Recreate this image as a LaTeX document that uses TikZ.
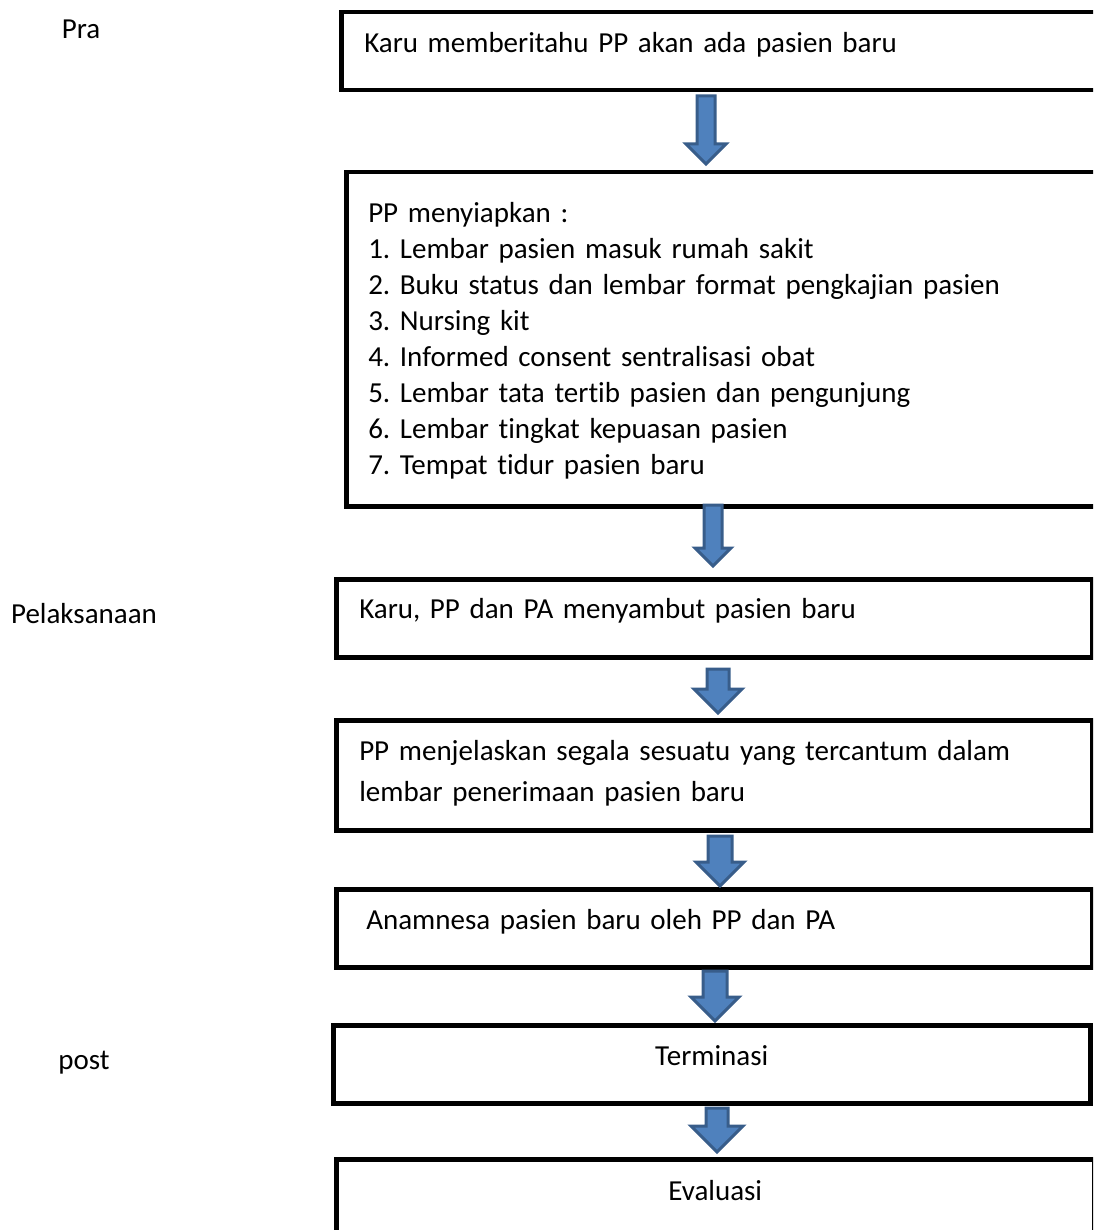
\documentclass[tikz,border=0pt]{standalone}
\usepackage{fontspec}
\setmainfont{Carlito}[Ligatures=NoCommon]
\frenchspacing
\usetikzlibrary{shapes.arrows}
\definecolor{arfill}{HTML}{4F81BD}
\definecolor{arline}{HTML}{385D8A}
\newcommand\stepfont[1]{\fontsize{29}{#1}\selectfont\fontdimen2\font 4.6pt\relax}

\begin{document}
\begin{tikzpicture}[x=1pt, y=-1pt, font=\stepfont{36},
          box/.style={draw, line width=4.5pt, anchor=north west, inner ysep=0pt, inner xsep=23pt, align=left},
          barrow/.style={single arrow, draw=arline, fill=arfill, line width=3pt, rotate=-90, anchor=tail,
                         text height=0pt, text depth=0pt, inner xsep=0pt, single arrow head indent=0pt}]
          \useasboundingbox (0,0) rectangle (1093,1230);
          \clip (0,0) rectangle (1093,1230);
          % stage labels
          \node[anchor=base] (pra) at (81,39) {Pra};
          \node[anchor=base] (pel) at (84,623) {Pelaksanaan};
          \node[anchor=base] (post) at (84,1069) {post};
          % steps
          \node[box, text width=716pt, text height=40pt, text depth=38pt] (b1) at (339,10) {Karu memberitahu PP akan ada pasien baru};
          \node[box, inner xsep=22pt, text width=713pt, text height=50pt, text depth=284pt] (b2) at (344,170) {PP menyiapkan :\\
            1. Lembar pasien masuk rumah sakit\\
            2. Buku status dan lembar format pengkajian pasien\\
            3. Nursing kit\\
            4. Informed consent sentralisasi obat\\
            5. Lembar tata tertib pasien dan pengunjung\\
            6. Lembar tingkat kepuasan pasien\\
            7. Tempat tidur pasien baru};
          \node[box, text width=710pt, text height=39pt, text depth=39pt] (b3) at (334,577) {Karu, PP dan PA menyambut pasien baru};
          \node[box, text width=710pt, text height=40pt, text depth=70pt, font=\stepfont{41}] (b4) at (334,718) {PP menjelaskan segala sesuatu yang tercantum dalam\\lembar penerimaan pasien baru};
          \node[box, inner xsep=30pt, text width=696pt, text height=40pt, text depth=38pt] (b5) at (334,887) {Anamnesa pasien baru oleh PP dan PA};
          \node[box, align=center, text width=711pt, text height=40pt, text depth=38pt] (b6) at (331,1023) {Terminasi};
          \node[box, align=center, text width=712pt, text height=41pt, text depth=42pt] (b7) at (334,1157) {Evaluasi};
          % block arrows
          \node[barrow, minimum height=68pt, inner ysep=7.5pt, single arrow head extend=11pt] (ar1) at (706,94.5) {};
          \node[barrow, minimum height=61pt, inner ysep=7.5pt, single arrow head extend=9pt] (ar2) at (713,503.5) {};
          \node[barrow, minimum height=44pt, inner ysep=9.5pt, single arrow head extend=13pt] (ar3) at (718,667.5) {};
          \node[barrow, minimum height=50pt, inner ysep=10.5pt, single arrow head extend=12pt] (ar4) at (720,834.5) {};
          \node[barrow, minimum height=50pt, inner ysep=10.5pt, single arrow head extend=12pt] (ar5) at (715,969.5) {};
          \node[barrow, minimum height=44pt, inner ysep=9.5pt, single arrow head extend=15pt] (ar6) at (717,1106.5) {};
        \end{tikzpicture}
\end{document}
